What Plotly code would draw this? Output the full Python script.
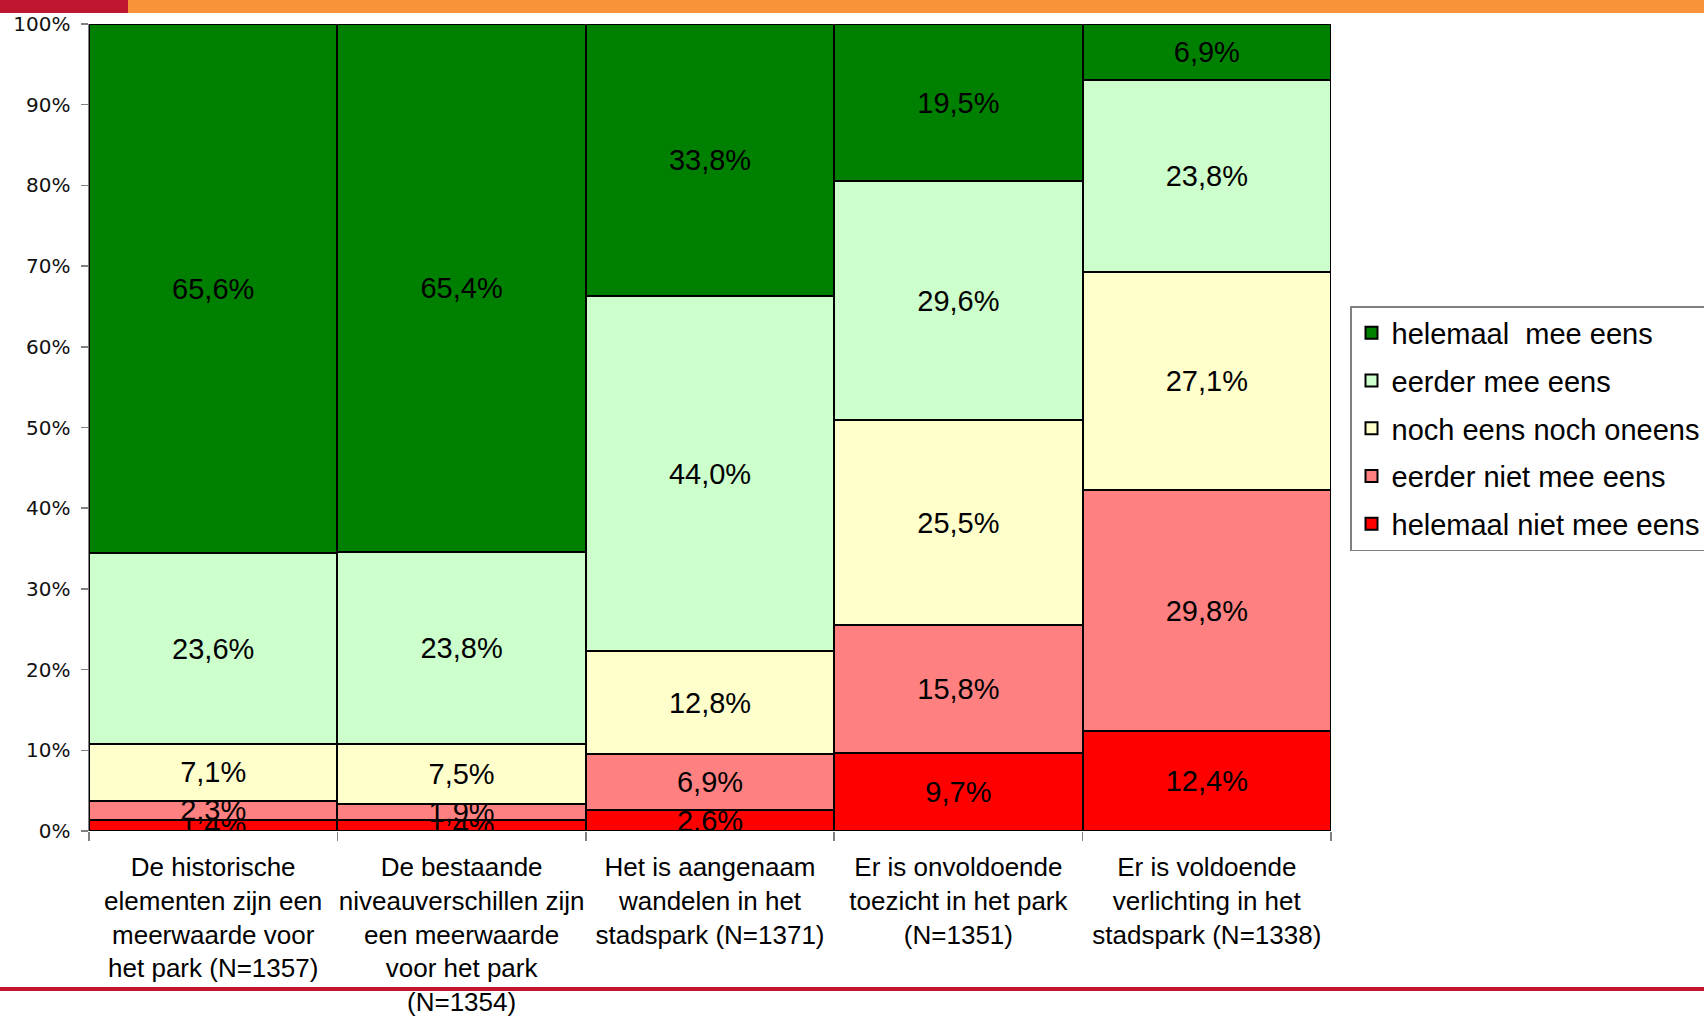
import plotly.graph_objects as go

categories = [
    "De historische<br>elementen zijn een<br>meerwaarde voor<br>het park (N=1357)",
    "De bestaande<br>niveauverschillen zijn<br>een meerwaarde<br>voor het park<br>(N=1354)",
    "Het is aangenaam<br>wandelen in het<br>stadspark (N=1371)",
    "Er is onvoldoende<br>toezicht in het park<br>(N=1351)",
    "Er is voldoende<br>verlichting in het<br>stadspark (N=1338)",
]

# bottom to top of the stack
helemaal_niet_mee_eens = [1.4, 1.4, 2.6, 9.7, 12.4]
eerder_niet_mee_eens = [2.3, 1.9, 6.9, 15.8, 29.8]
noch_eens_noch_oneens = [7.1, 7.5, 12.8, 25.5, 27.1]
eerder_mee_eens = [23.6, 23.8, 44.0, 29.6, 23.8]
helemaal_mee_eens = [65.6, 65.4, 33.8, 19.5, 6.9]

series = [
    ("helemaal niet mee eens", helemaal_niet_mee_eens, "#FF0000"),
    ("eerder niet mee eens", eerder_niet_mee_eens, "#FF8080"),
    ("noch eens noch oneens", noch_eens_noch_oneens, "#FFFFCC"),
    ("eerder mee eens", eerder_mee_eens, "#CCFFCC"),
    ("helemaal  mee eens", helemaal_mee_eens, "#008000"),
]

y_ticks = list(range(0, 101, 10))

fig = go.Figure()
n = len(series)
for i, (name, vals, color) in enumerate(series):
    fig.add_trace(go.Bar(
        x=categories,
        y=vals,
        name=name,
        legendgroup=f"g{i}",
        legendrank=n - i,
        marker=dict(color=color, line=dict(color="#000000", width=2)),
        text=[f"{v:.1f}".replace(".", ",") + "%" for v in vals],
        textposition="inside",
        insidetextanchor="middle",
        textangle=0,
        constraintext="none",
        textfont=dict(family="Liberation Sans, Arial, sans-serif", size=29, color="#000000"),
        hoverinfo="skip",
    ))

W, H = 1704, 1022
L, R, T, B = 89, 1331, 24, 831
pw, ph = R - L, B - T


def px_x(p):
    return (p - L) / pw


def px_y(p):
    return (B - p) / ph


shapes = [
    dict(type="rect", xref="paper", yref="paper", x0=px_x(-5), x1=px_x(128),
         y0=px_y(13), y1=px_y(-5), fillcolor="#BE1530", line=dict(width=0), layer="above"),
    dict(type="rect", xref="paper", yref="paper", x0=px_x(128), x1=px_x(W + 5),
         y0=px_y(13), y1=px_y(-5), fillcolor="#F9933A", line=dict(width=0), layer="above"),
    dict(type="rect", xref="paper", yref="paper", x0=px_x(-5), x1=px_x(W + 5),
         y0=px_y(991), y1=px_y(987), fillcolor="#C0142F", line=dict(width=0), layer="above"),
]

fig.update_layout(
    width=W, height=H,
    barmode="stack",
    barnorm="percent",
    bargap=0,
    plot_bgcolor="#FFFFFF",
    paper_bgcolor="#FFFFFF",
    margin=dict(l=L, r=W - R, t=T, b=H - B, pad=0, autoexpand=False),
    font=dict(family="Liberation Sans, Arial, sans-serif", color="#000000"),
    showlegend=True,
    legend=dict(
        x=px_x(1350), y=px_y(306), xanchor="left", yanchor="top",
        bgcolor="#FFFFFF", bordercolor="#808080", borderwidth=1.5,
        font=dict(family="Liberation Sans, Arial, sans-serif", size=29, color="#000000"),
        traceorder="grouped",
        tracegroupgap=7,
    ),
    shapes=shapes,
    xaxis=dict(
        type="category",
        tickson="boundaries",
        ticks="outside",
        ticklen=9,
        tickcolor="#808080",
        tickwidth=1.5,
        tickangle=0,
        showline=False,
        showgrid=False,
        automargin=False,
        tickfont=dict(family="Liberation Sans, Arial, sans-serif", size=26, color="#000000"),
        ticklabelstandoff=18,
        fixedrange=True,
    ),
    yaxis=dict(
        range=[0, 100],
        tickvals=y_ticks,
        ticktext=[f"{v}%" for v in y_ticks],
        ticks="outside",
        ticklen=7,
        tickcolor="#808080",
        tickwidth=1.5,
        showline=True,
        linecolor="#808080",
        linewidth=1.5,
        showgrid=False,
        zeroline=False,
        automargin=False,
        tickfont=dict(family="DejaVu Sans, Verdana, sans-serif", size=20, color="#111111"),
        ticklabelstandoff=6,
        fixedrange=True,
    ),
)

fig.write_html(
    "out.html",
    config={"displayModeBar": False, "staticPlot": True},
    post_script="document.body.style.margin='0';document.body.style.padding='0';",
)
